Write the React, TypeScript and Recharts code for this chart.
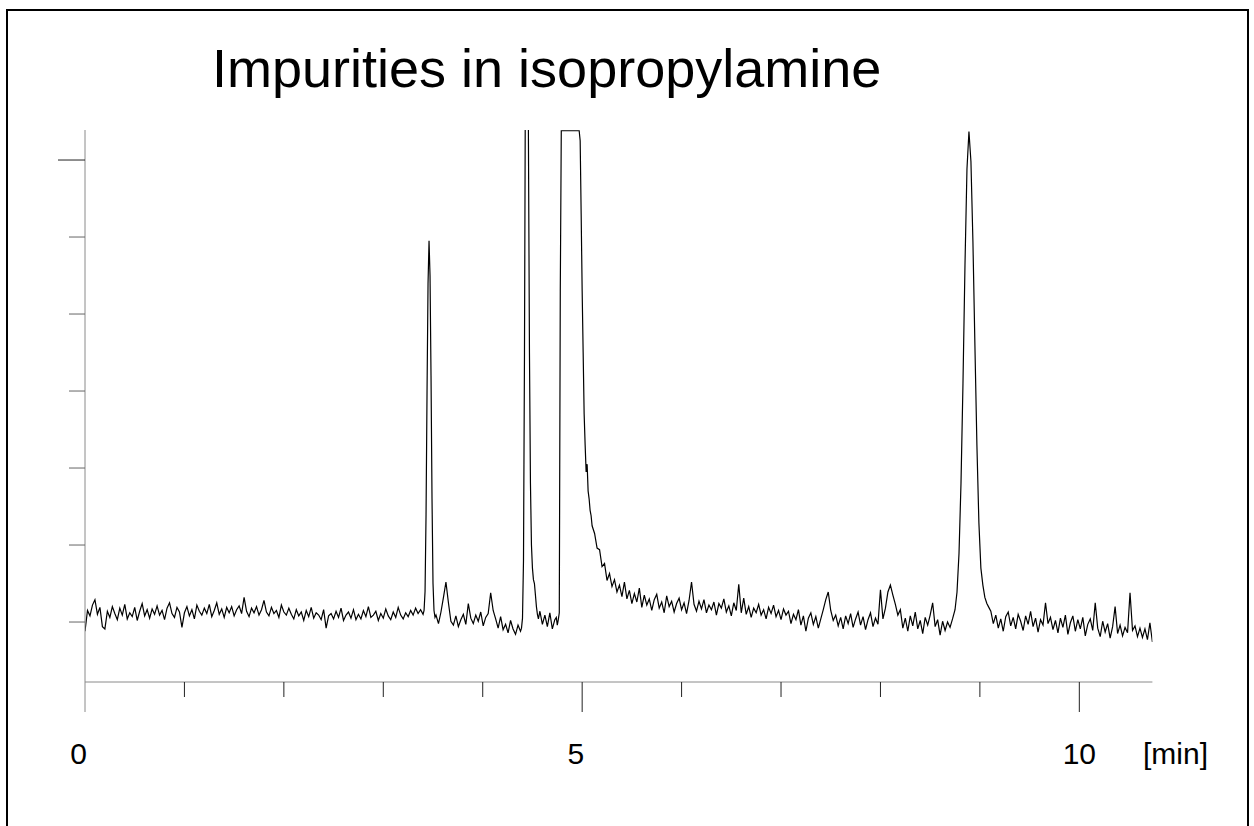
import { LineChart, Line, XAxis, YAxis } from "recharts";

const title = "Impurities in isopropylamine";
const unitLabel = "[min]";
const xTicks = [0, 1, 2, 3, 4, 5, 6, 7, 8, 9, 10];
const xLabels: Record<number, string> = { 0: "0", 5: "5", 10: "10" };
const yTicks = [0, 10, 20, 30, 40, 50, 60];

// detector signal (1 y-tick = 10 units)
const baseStep = 0.025;
const peakStep = 0.01;

const run1Start = 0;
const run1 = [
  -1.2, 1.5, 0.8, 2.2, 2.9, 1.0, 1.9, -0.6, -0.9, 1.4,
  0.6, 2.0, 1.1, 0.3, 1.8, 0.9, 2.3, 0.4, 1.2, 0.7,
  1.9, 0.2, 1.4, 2.4, 0.8, 1.6, 0.5, 1.7, 1.0, 2.1,
  0.9, 1.5, 0.3, 1.8, 2.5, 1.1, 0.6, 1.9, 1.3, -0.7,
  1.2, 2.0, 0.8, 1.6, 0.4, 2.2, 1.4, 0.9, 1.8, 1.1,
  2.3, 0.7, 1.5, 2.5, 1.0, 1.7, 0.6, 1.9, 1.2, 2.0,
  0.8, 1.6, 2.1, 1.1, 3.2, 1.4, 0.7, 1.8, 1.2, 2.0,
  0.9, 1.6, 2.8, 1.3, 0.8, 1.9, 1.1, 1.5, 0.6, 2.2,
  1.3, 0.9, 1.8, 1.0, 0.4, 1.6, 0.8, 1.3, 0.2, 1.5,
  0.7, 1.9, 0.5, 1.2, 0.9, 0.3, 1.6, -0.8, 0.8, 1.1,
  0.4, 1.4, 0.6, 1.8, 0.2, 0.9, 1.3, 0.5, 1.6, 0.3,
  1.0, 0.4, 1.5, 0.7, 2.0, 0.6, 0.9, 1.4, 0.2, 1.1,
  0.5, 1.7, 0.8, 0.3, 1.3, 0.6, 1.9, 0.9, 0.4, 1.2,
  0.7, 1.5, 0.9, 1.8, 1.1, 1.6, 1.0,
];

const peak1Start = 3.41;
const peak1 = [1.5, 4, 14, 30, 44, 49.5, 45, 32, 16, 5, 1.5, 0.6];

const run2Start = 3.53;
const run2 = [
  0.9, -0.2, 1.3, 3.2, 5.2, 2.5, 0.1, -0.4, 0.8, -0.6,
  0.3, 1.0, -0.3, 2.4, 0.5, -0.2, 0.9, 0.1, 1.3, -0.5,
  0.6, 1.1, 3.8, 1.5, 0.4, -0.8, 0.7, -1.0, -0.3, -1.4,
  0.2, -0.9, -1.6, -0.4, -1.2,
];

const peak2Start = 4.39;
const peak2 = [-0.8, 0.5, 8, 35, 75, 100, 95, 62, 35, 18, 10, 7, 5.5, 5, 3.5, 2, 1, 0.4];

const run3Start = 4.575;
const run3 = [1.4, -0.3, 0.9, -0.6, 1.2, -0.9, 0.3];

// isopropylamine itself, detector saturated at the top
const mainStart = 4.74;
const mainPeak = [
  0.6, -0.4, 0.3, 1.2, 43,
  63.8, 63.8, 63.8, 63.8, 63.8, 63.8, 63.8, 63.8, 63.8, 63.8,
  63.8, 63.8, 63.8, 63.8, 63.8, 63.8, 63.8, 63.8, 63.8,
  62.5, 53, 43, 35, 27, 23, 19.5, 20.5, 17, 16, 14.5, 13.8, 12.5,
];

const run4Start = 5.125;
const run4 = [
  11.5, 9.6, 9.4, 7.2, 7.6, 5.4, 6.3, 4.6, 5.5, 3.9,
  4.8, 3.3, 5.2, 3.0, 4.1, 2.4, 3.7, 2.6, 4.4, 1.9,
  3.5, 2.2, 3.0, 1.5, 2.9, 3.6, 1.8, 2.6, 1.2, 3.4,
  2.0, 2.7, 1.3, 2.4, 3.1, 1.6, 2.5, 1.1, 2.8, 5.2,
  2.3, 1.4, 2.7, 1.7, 2.9, 1.2, 2.2, 1.6, 2.6, 0.9,
  2.4, 1.8, 3.0, 1.3, 2.1, 0.8, 2.5, 1.5, 4.9, 1.2,
  3.1, 1.0, 2.0, 0.6, 1.8, 1.2, 2.3, 0.9, 1.6, 0.4,
  1.9, 1.1, 2.2, 0.7, 1.5, 0.3, 1.7, 0.9, 1.4, -0.2,
  1.0, 0.3, 1.6, -0.4, 0.8, -1.2, 0.5, 1.2, -0.3, 0.7,
  -0.8, 0.4, 1.6, 2.9, 3.9, 1.5, 0.2, 0.9, -0.5, 0.6,
  -0.9, 0.8, -0.2, 1.1, -0.7, 0.4, 1.3, -0.4, 0.7, -1.0,
  0.3, 1.2, -0.6, 0.5, -0.3, 4.2, 0.4, 1.8, 3.9, 4.8,
  3.5, 2.3, 0.9, 1.6, -0.8, 0.5, -1.2, 0.8, -0.5, 1.3,
  -0.9, 0.2, -1.5, 0.6, -0.4, 0.9, 2.5, -0.6, 0.3, -1.7,
  0.1, -1.1, 0.0, -0.7, 0.4,
];

const peak4Start = 8.75;
const peak4Step = 0.02;
const peak4 = [1.6, 3.9, 8.9, 18, 31, 46.3, 58.8, 63.7, 59.8, 49.4, 35.9, 23, 12.9, 7, 4.8, 3.2, 2.4, 1.9, 1.4];

const run5Start = 9.135;
const run5 = [
  -0.2, 0.9, -0.8, 0.4, -1.2, 0.7, 1.3, -0.5, 0.6, -0.9,
  1.0, 0.1, -1.1, 0.8, -0.3, 1.4, -0.6, 0.5, -1.3, 0.3,
  -0.4, 2.5, -0.2, 0.6, -1.0, 0.2, -1.4, 0.5, -0.7, 0.9,
  -1.6, -0.1, 0.8, -1.2, 0.3, -0.9, 0.6, -1.8, -0.3, 0.4,
  -1.1, 2.5, -0.8, -1.9, 0.1, -1.3, -0.2, -2.1, -0.6, 2.0,
  -1.5, -0.4, -1.8, -0.7, -1.4, 3.8, -1.1, -0.5, -1.9, -0.8,
  -2.0, -0.9, -2.3, -0.1, -2.6,
];

const segments: [number, number, number[]][] = [
  [run1Start, baseStep, run1],
  [peak1Start, peakStep, peak1],
  [run2Start, baseStep, run2],
  [peak2Start, peakStep, peak2],
  [run3Start, baseStep, run3],
  [mainStart, peakStep, mainPeak],
  [run4Start, baseStep, run4],
  [peak4Start, peak4Step, peak4],
  [run5Start, baseStep, run5],
];

const data = segments.flatMap(([start, step, values]) =>
  values.map((v, i) => ({ t: +(start + i * step).toFixed(3), v }))
);

const font = "'Liberation Sans', Arial, sans-serif";

function TimeTick({ x, y, payload }: any) {
  const v = payload.value;
  const major = v % 5 === 0;
  const label = xLabels[v];
  return (
    <g>
      <line x1={x} x2={x} y1={y} y2={y + (major ? 30 : 15)} stroke={v === 0 ? "#8a8a8a" : "#222"} />
      {label && (
        <text x={v === 10 ? x : x + 2} y={y + 82} textAnchor={v === 10 ? "middle" : "end"} fontSize={30} fontFamily={font} fill="#000">
          {label}
        </text>
      )}
    </g>
  );
}

function LevelTick({ x, y, payload }: any) {
  const top = payload.value === 60;
  return <line x1={x - (top ? 27 : 16)} x2={x} y1={y} y2={y} stroke={top ? "#222" : "#666"} />;
}

export default function App() {
  return (
    <div style={{ position: "absolute", left: 0, top: 0, width: 1254, height: 826, background: "#fff", overflow: "hidden" }}>
      <LineChart width={1254} height={826} data={data} margin={{ top: 130, right: 101.6, bottom: 104, left: 55 }}>
        <XAxis
          dataKey="t"
          type="number"
          domain={[0, 10.735]}
          allowDataOverflow
          ticks={xTicks}
          height={40}
          tickSize={0}
          tickMargin={0}
          tickLine={false}
          axisLine={{ stroke: "#8a8a8a" }}
          tick={(p: any) => <TimeTick {...p} />}
          interval={0}
        />
        <YAxis
          type="number"
          domain={[-7.79, 63.9]}
          allowDataOverflow
          ticks={yTicks}
          width={30}
          tickSize={0}
          tickMargin={0}
          tickLine={false}
          axisLine={{ stroke: "#8a8a8a" }}
          tick={(p: any) => <LevelTick {...p} />}
          interval={0}
        />
        <Line dataKey="v" type="linear" stroke="#000" strokeWidth={1.2} dot={false} isAnimationActive={false} />
      </LineChart>
      <svg width={1254} height={826} style={{ position: "absolute", left: 0, top: 0, pointerEvents: "none" }}>
        <path d="M7 830 V10 H1248 V830" fill="none" stroke="#000" strokeWidth={2} />
        <text x={212} y={87} fontSize={54} fontFamily={font} fill="#000">
          {title}
        </text>
        <text x={1143} y={764} fontSize={30} fontFamily={font} fill="#000">
          {unitLabel}
        </text>
      </svg>
    </div>
  );
}
